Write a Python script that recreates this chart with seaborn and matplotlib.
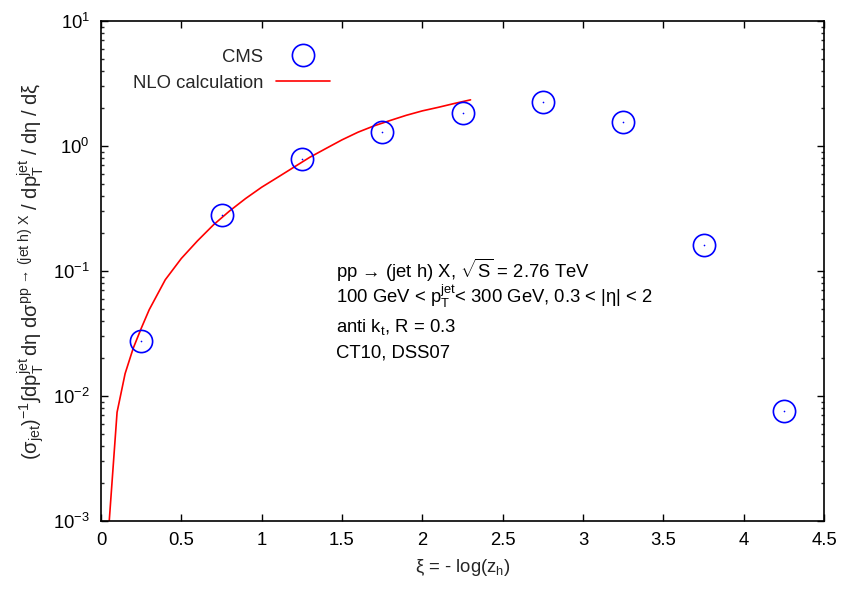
import numpy as np
import pandas as pd
import matplotlib
matplotlib.use("Agg")
import matplotlib.pyplot as plt
import seaborn as sns

# ---- data ----
cms_xi = [0.25, 0.75, 1.25, 1.75, 2.25, 2.75, 3.25, 3.75, 4.25]
cms_val = [0.0275, 0.281, 0.787, 1.29, 1.84, 2.24, 1.56, 0.162, 0.00759]

nlo_xi = [0.05, 0.1, 0.15, 0.2, 0.25, 0.3, 0.4, 0.5, 0.6, 0.7, 0.8, 0.9, 1.0,
          1.1, 1.2, 1.3, 1.4, 1.5, 1.6, 1.7, 1.8, 1.9, 2.0, 2.1, 2.2, 2.3]
nlo_val = [0.00095, 0.00741, 0.0151, 0.0240, 0.0347, 0.0490, 0.0851, 0.126,
           0.174, 0.234, 0.302, 0.380, 0.468, 0.562, 0.676, 0.813, 0.955,
           1.12, 1.29, 1.45, 1.60, 1.76, 1.91, 2.04, 2.19, 2.34]

x_ticks = [0, 0.5, 1, 1.5, 2, 2.5, 3, 3.5, 4, 4.5]
x_tick_labels = ["0", "0.5", "1", "1.5", "2", "2.5", "3", "3.5", "4", "4.5"]

info_lines = [
    r"pp → (jet h) X, $\sqrt{\rm S}$ = 2.76 TeV",
    r"100 GeV < $\mathrm{p_T^{jet}}$< 300 GeV, 0.3 < |$\eta$| < 2",
    r"anti $\mathrm{k_t}$, R = 0.3",
    "CT10, DSS07",
]

cms_df = pd.DataFrame({"xi": cms_xi, "val": cms_val})
nlo_df = pd.DataFrame({"xi": nlo_xi, "val": nlo_val})

sns.set_theme(style="ticks")
plt.rcParams["font.family"] = ["Liberation Sans", "DejaVu Sans"]
plt.rcParams["mathtext.fontset"] = "custom"
plt.rcParams["mathtext.rm"] = "Liberation Sans"
plt.rcParams["mathtext.it"] = "Liberation Sans"
plt.rcParams["mathtext.bf"] = "Liberation Sans:bold"
plt.rcParams["mathtext.sf"] = "Liberation Sans"

FS = 13.3

fig = plt.figure(figsize=(8.58, 6.01), dpi=100)
ax = fig.add_axes([101 / 858, 80 / 601, 723 / 858, 500 / 601])

sns.lineplot(data=nlo_df, x="xi", y="val", ax=ax, color="#ff0000",
             linewidth=1.2, label="NLO calculation", sort=False)
sns.lineplot(data=cms_df, x="xi", y="val", ax=ax, linestyle="none",
             marker="o", markersize=16, markerfacecolor="none",
             markeredgecolor="#0000ff", markeredgewidth=1.2,
             color="#0000ff", label="CMS", sort=False)
sns.lineplot(data=cms_df, x="xi", y="val", ax=ax, linestyle="none",
             marker="o", markersize=1.2, markeredgewidth=0,
             color="#0000ff", sort=False, legend=False)

ax.set_yscale("log")
ax.set_xlim(0, 4.5)
ax.set_ylim(1e-3, 10)
ax.set_xticks(x_ticks)
ax.set_xticklabels(x_tick_labels)

for s in ax.spines.values():
    s.set_visible(True)
    s.set_linewidth(1.2)
    s.set_color("black")

ax.tick_params(axis="both", which="major", direction="in", top=True,
               right=True, length=5, width=1, labelsize=FS, colors="black",
               pad=8)
ax.tick_params(axis="y", which="minor", direction="in", left=True,
               right=True, length=2.5, width=1)
ax.tick_params(axis="x", which="minor", bottom=False, top=False)

ax.set_xlabel(r"$\xi$ = - log(z$_\mathrm{h}$)", fontsize=FS, labelpad=6)
ax.set_ylabel(r"$(\sigma_{\rm jet})^{-1}\int \mathrm{dp_T^{jet}\,d}\eta\ "
              r"\mathrm{d}\sigma^{\rm pp\,\rightarrow\,(jet\ h)\ X}\ /\ "
              r"\mathrm{dp_T^{jet}}\ /\ \mathrm{d}\eta\ /\ \mathrm{d}\xi$",
              fontsize=14.5, labelpad=4)

# legend (gnuplot style: text right-aligned, sample on the right)
ax.get_legend().remove()
handles, labels = ax.get_legend_handles_labels()
hmap = dict(zip(labels, handles))
leg1 = ax.legend([hmap["CMS"]], ["CMS"], loc="center right",
                 bbox_to_anchor=(0.3167, 0.928), frameon=False,
                 markerfirst=False, handlelength=2.9, handletextpad=0.7,
                 borderpad=0, borderaxespad=0, fontsize=FS)
ax.add_artist(leg1)
leg2 = ax.legend([hmap["NLO calculation"]], ["NLO calculation"],
                 loc="center right", bbox_to_anchor=(0.3167, 0.876),
                 frameon=False, markerfirst=False, handlelength=2.9,
                 handletextpad=0.7, borderpad=0, borderaxespad=0,
                 fontsize=FS)

ys = [0.486, 0.436, 0.378, 0.326]
for line, yy in zip(info_lines, ys):
    ax.text(0.325, yy, line, transform=ax.transAxes, fontsize=FS,
            ha="left", va="baseline", color="black")

fig.savefig("out.png", dpi=100)
